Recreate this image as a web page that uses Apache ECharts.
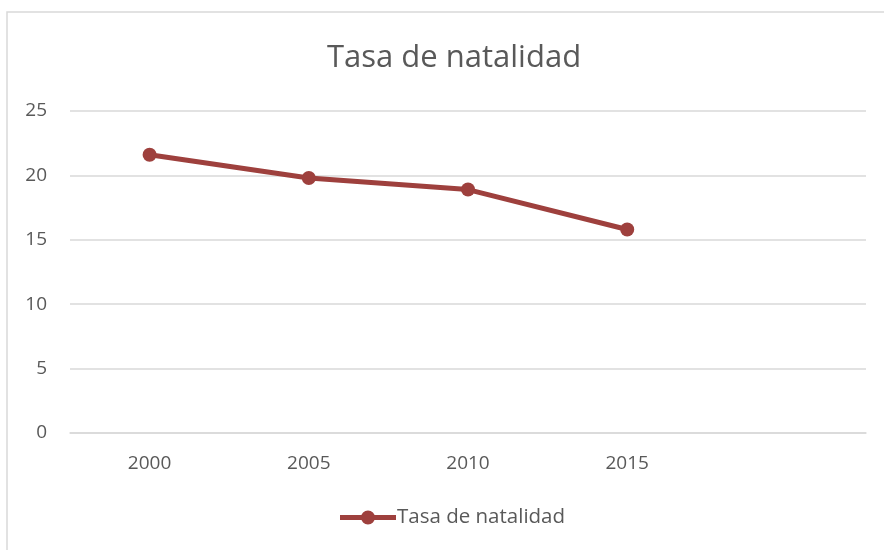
<!DOCTYPE html>
<html><head><meta charset="utf-8">
<script src="https://cdn.jsdelivr.net/npm/echarts@6/dist/echarts.min.js"></script>
<style>html,body{margin:0;padding:0;background:#fff}#c{width:884px;height:550px}</style>
</head><body><div id="c"></div>
<script>
const categories = ['2000', '2005', '2010', '2015', ''];
const natalidad = [21.6, 19.8, 18.9, 15.8, null];
const yTicks = { min: 0, max: 25, interval: 5 };
const seriesName = 'Tasa de natalidad';
const titleText = 'Tasa de natalidad';

const chart = echarts.init(document.getElementById('c'));
const font = '"Open Sans", "Noto Sans", sans-serif';
chart.setOption({
  animation: false,
  graphic: [{ type: 'rect', shape: { x: 7, y: 12, width: 900, height: 600 }, style: { fill: 'none', stroke: '#d9d9d9', lineWidth: 1.5 } }],
  title: { text: titleText, left: 322, top: 38, textStyle: { fontFamily: font, fontSize: 31, fontWeight: 'normal', color: '#595959' } },
  grid: { left: 70, right: 18, top: 111, bottom: 117 },
  legend: { bottom: 17, left: 335, itemWidth: 56, itemHeight: 14, itemGap: 0,
    icon: 'path://M0,4.5 L22,4.5 L22,9.5 L0,9.5 Z M34,4.5 L56,4.5 L56,9.5 L34,9.5 Z M21,7 A7,7 0 1,1 35,7 A7,7 0 1,1 21,7 Z',
    textStyle: { fontFamily: font, fontSize: 20.5, color: '#595959', padding: [0,0,0,-4] }, data: [seriesName] },
  xAxis: { type: 'category', data: categories, boundaryGap: true,
    axisLine: { show: true, lineStyle: { color: '#d9d9d9', width: 1.5 } }, axisTick: { show: false },
    axisLabel: { fontFamily: font, fontSize: 19, color: '#595959', margin: 21 } },
  yAxis: { type: 'value', min: yTicks.min, max: yTicks.max, interval: yTicks.interval,
    axisLine: { show: false }, axisTick: { show: false },
    splitLine: { lineStyle: { color: '#d9d9d9', width: 1.5 } },
    axisLabel: { fontFamily: font, fontSize: 19, color: '#595959', margin: 23 } },
  series: [{ name: seriesName, type: 'line', data: natalidad, symbol: 'circle', symbolSize: 14,
    lineStyle: { color: '#9e403d', width: 5 }, itemStyle: { color: '#9e403d' } }]
});
</script></body></html>
